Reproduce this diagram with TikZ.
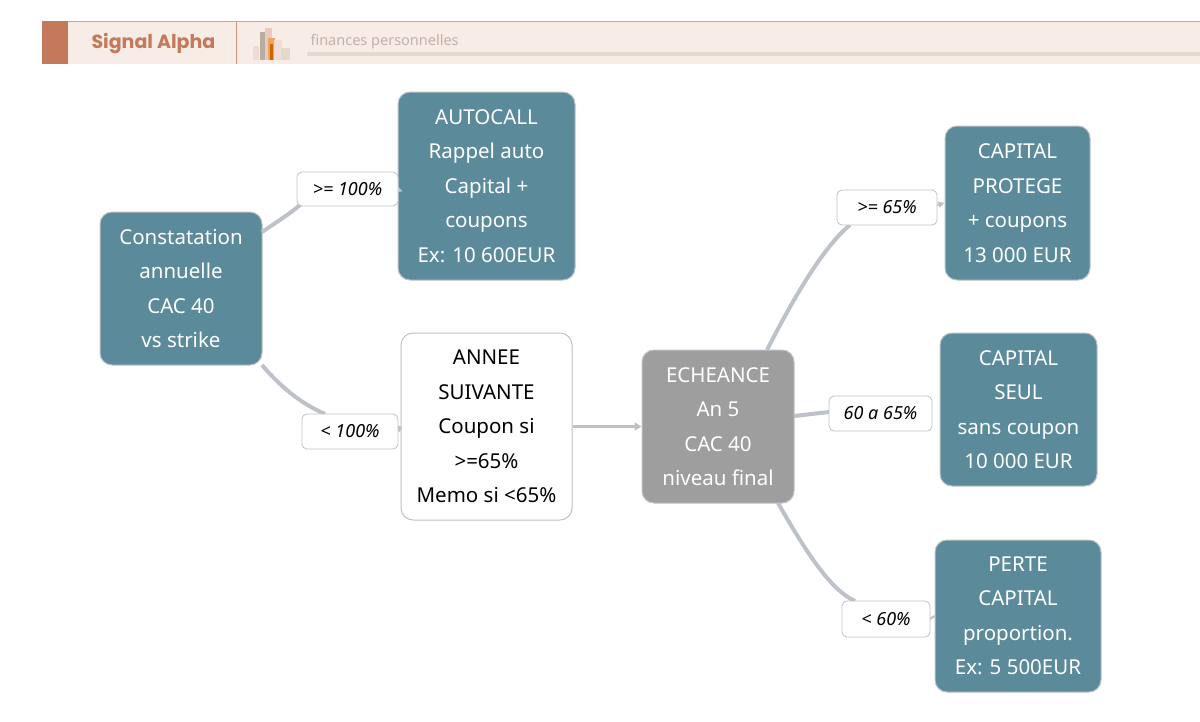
\documentclass[tikz,border=0pt]{standalone}
\usepackage{fontspec}
\setmainfont{Noto Sans}
\newfontfamily\popp{Poppins}
\usetikzlibrary{arrows.meta}
\definecolor{teal}{HTML}{5B8A9B}
\definecolor{gbox}{HTML}{9E9E9E}
\definecolor{edge}{HTML}{BCC2C8}
\definecolor{hdr}{HTML}{F7ECE6}
\definecolor{rust}{HTML}{C47A5A}
\definecolor{beige}{HTML}{E6D8CC}
\tikzset{
 box/.style={rounded corners=12pt,draw=edge,line width=1pt,font=\fontsize{20.5}{34.5}\selectfont,align=center,inner sep=0pt},
 tbox/.style={box,fill=teal,text=white},
 lbl/.style={rounded corners=5pt,draw=edge,fill=white,line width=0.8pt,font=\fontsize{18}{20}\selectfont\itshape,inner sep=0pt},
 con/.style={draw=edge,line width=4pt},
}
\begin{document}
\begin{tikzpicture}[x=1pt,y=-1pt]
\useasboundingbox (0,0) rectangle (1200,721);
% header
\fill[hdr] (42,21) rectangle (1200,64);
\draw[rust!70,line width=0.8pt] (42,21) -- (1200,21);
\fill[rust] (42,21) rectangle (68,64);
\draw[rust!80,line width=0.8pt] (236,21) -- (236,64);
\node[font=\popp\fontsize{19}{20}\selectfont\bfseries,text=rust,anchor=west] (brand) at (88,43) {Signal Alpha};
\fill[beige] (307,52) rectangle (1200,56);
\node[font=\fontsize{14.5}{16}\selectfont,text=rust!45!gray!60,anchor=west] (tag) at (307,42) {finances personnelles};
\fill[rust!30,opacity=.8] (253,46) rectangle (259,60);
\fill[beige!80!black] (260,32) rectangle (268,60);
\fill[rust!40] (265,28) rectangle (272,60);
\fill[orange!60!brown!70] (268,38) rectangle (275,60);
\fill[rust!25] (274,40) rectangle (282,60);
\fill[beige] (281,48) rectangle (290,60);
\fill[orange!80!black] (270,44) rectangle (273,60);
% nodes
\node[tbox,minimum width=162pt,minimum height=153pt] (c) at (181,288.5) {Constatation\\annuelle\\CAC 40\\vs strike};
\node[tbox,minimum width=177pt,minimum height=188pt] (a) at (486.5,186) {AUTOCALL\\Rappel auto\\Capital +\\coupons\\Ex: 10 600EUR};
\node[box,fill=white,minimum width=171pt,minimum height=187pt] (n) at (486.5,426.5) {ANNEE\\SUIVANTE\\Coupon si\\>=65\%\\Memo si <65\%};
\node[box,fill=gbox,text=white,minimum width=152pt,minimum height=153pt] (e) at (718,426.5) {ECHEANCE\\An 5\\CAC 40\\niveau final};
\node[tbox,minimum width=145pt,minimum height=154pt] (p) at (1017.5,203) {CAPITAL\\PROTEGE\\+ coupons\\13 000 EUR};
\node[tbox,minimum width=157pt,minimum height=153pt] (s) at (1018.5,409.5) {CAPITAL\\SEUL\\sans coupon\\10 000 EUR};
\node[tbox,minimum width=166pt,minimum height=152pt] (r) at (1018,616) {PERTE\\CAPITAL\\proportion.\\Ex: 5 500EUR};
% connectors
\draw[con] (262,232) .. controls (280,220) and (292,212) .. (300,205);
\draw[con,-{Triangle[length=6pt,width=8pt]}] (398,189) -- (a.west);
\draw[con] (262,365) .. controls (285,392) and (305,405) .. (325,414);
\draw[con] (398,431) -- (n.west);
\draw[con,line width=3pt,-{Triangle[length=7pt,width=8pt]}] (n.east) -- (e.west);
\draw[con] (767,350) .. controls (795,295) and (825,245) .. (850,225);
\draw[con,line width=2pt,-{Triangle[length=6pt,width=6pt]}] (937,205) -- (p.west);
\draw[con] (794,416) -- (829,412);
\draw[con] (778,503) .. controls (805,550) and (830,590) .. (855,601);
\draw[con,line width=2pt] (930,619) -- (r.west);
% labels
\node[lbl,minimum width=101pt,minimum height=34pt] (l1) at (347.5,189) {>= 100\%};
\node[lbl,minimum width=96pt,minimum height=35pt] (l2) at (350,431.5) {< 100\%};
\node[lbl,minimum width=100pt,minimum height=35pt] (l3) at (887,207.5) {>= 65\%};
\node[lbl,minimum width=103pt,minimum height=35pt] (l4) at (880.5,413.5) {60 a 65\%};
\node[lbl,minimum width=88pt,minimum height=36pt] (l5) at (886,619) {< 60\%};
\end{tikzpicture}
\end{document}
